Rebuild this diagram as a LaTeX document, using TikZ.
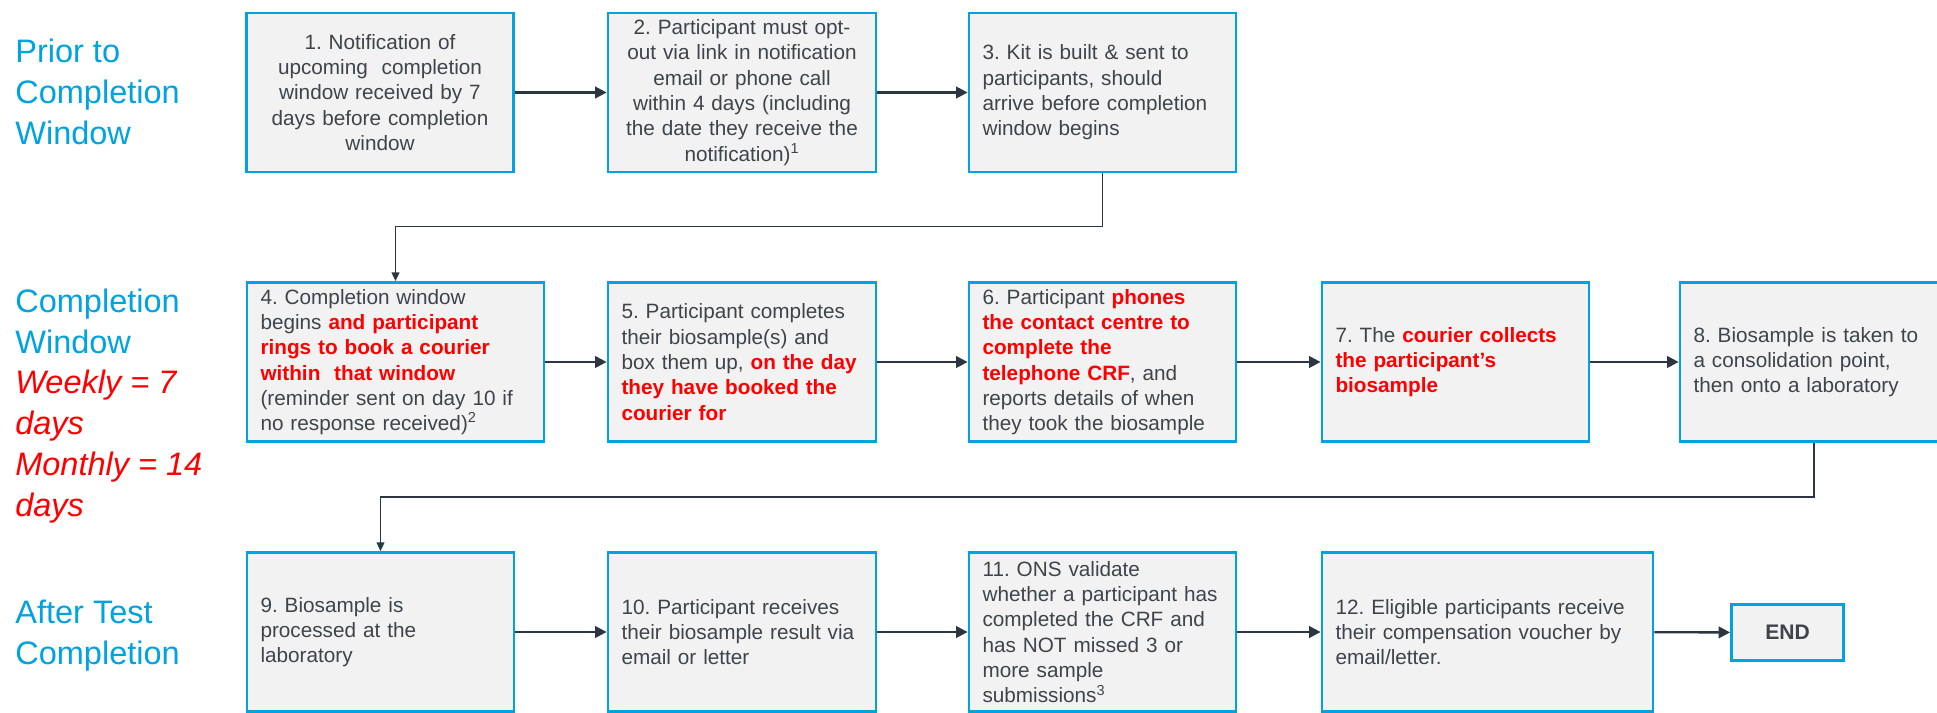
\documentclass[tikz,border=0pt]{standalone}
\usepackage{fontspec}
\setmainfont{Liberation Sans}
\usetikzlibrary{arrows.meta}
\definecolor{stageblue}{RGB}{0,163,224}
\definecolor{stagefill}{RGB}{242,242,242}
\definecolor{stagetext}{RGB}{62,68,74}
\definecolor{flowgrey}{RGB}{44,54,64}
\definecolor{alertred}{RGB}{255,0,0}
\newcommand{\redbf}[1]{\textcolor{alertred}{\bfseries #1}}

\begin{document}
\begin{tikzpicture}[x=0.02cm,y=-0.02cm,
  stage/.style={shape=rectangle,draw=stageblue,line width=1.6pt,fill=stagefill,text=stagetext,
    font=\frenchspacing\fontsize{11.8}{14.4}\selectfont,inner xsep=0.27cm,minimum height=3.18cm,text width=#1,align=left},
  stagec/.style={stage=#1,align=center},
  finish/.style={shape=rectangle,draw=stageblue,line width=1.6pt,fill=stagefill,text=stagetext,
    font=\bfseries\fontsize{12}{14.4}\selectfont,minimum width=2.24cm,minimum height=1.12cm},
  phase/.style={text=stageblue,font=\fontsize{18.5}{23.3}\selectfont,anchor=west,align=left,inner sep=0pt},
  flow/.style={draw=flowgrey,line width=1.3pt,-{Triangle[length=6.5pt,width=6.5pt]}},
  link/.style={draw=flowgrey,line width=0.8pt,-{Triangle[length=5pt,width=4.5pt]}}]
\useasboundingbox (0,0) rectangle (1937,713);

\node[phase] (prior) at (15,92) {Prior to\\Completion\\Window};
\node[phase] (window) at (15,406) {Completion\\Window\\{\color{alertred}\itshape Weekly = 7}\\{\color{alertred}\itshape days}\\{\color{alertred}\itshape Monthly = 14}\\{\color{alertred}\itshape days}};
\node[phase] (after) at (15,636) {After Test\\Completion};

\node[stagec=4.8cm] (s1) at (380,92.5) {1. Notification of\\upcoming\ \ completion\\window received by 7\\days before completion\\window};
\node[stagec=4.82cm] (s2) at (742,92.5) {2. Participant must opt-\\out via link in notification\\email or phone call\\within 4 days (including\\the date they receive the\\notification)\textsuperscript{1}};
\node[stage=4.8cm] (s3) at (1102.5,92.5) {3. Kit is built \& sent to\\participants, should\\arrive before completion\\window begins};

\node[stage=5.4cm] (s4) at (395.5,362) {4. Completion window\\begins \redbf{and participant}\\\redbf{rings to book a courier}\\\redbf{within\ \ that window}\\(reminder sent on day 10 if\\no response received)\textsuperscript{2}};
\node[stage=4.82cm] (s5) at (742,362) {5. Participant completes\\their biosample(s) and\\box them up, \redbf{on the day}\\\redbf{they have booked the}\\\redbf{courier for}};
\node[stage=4.8cm] (s6) at (1102.5,362) {6. Participant \redbf{phones}\\\redbf{the contact centre to}\\\redbf{complete the}\\\redbf{telephone CRF}, and\\reports details of when\\they took the biosample};
\node[stage=4.8cm] (s7) at (1455.5,362) {7. The \redbf{courier collects}\\\redbf{the participant’s}\\\redbf{biosample}};
\node[stage=4.82cm] (s8) at (1814,362) {8. Biosample is taken to\\a consolidation point,\\then onto a laboratory};

\node[stage=4.8cm] (s9) at (380.5,632) {9. Biosample is\\processed at the\\laboratory};
\node[stage=4.82cm] (s10) at (742,632) {10. Participant receives\\their biosample result via\\email or letter};
\node[stage=4.8cm] (s11) at (1102.5,632) {11. ONS validate\\whether a participant has\\completed the CRF and\\has NOT\ missed 3 or\\more sample\\submissions\textsuperscript{3}};
\node[stage=6.08cm] (s12) at (1487.5,632) {12. Eligible participants receive\\their compensation voucher by\\email/letter.};
\node[finish] (fin) at (1787.5,632.5) {END};

\path[flow] (s1) -- (s2);
\path[flow] (s2) -- (s3);
\path[link] (s3.south) -- ++(0,53) -| (s4.north);
\path[flow] (s4) -- (s5);
\path[flow] (s5) -- (s6);
\path[flow] (s6) -- (s7);
\path[flow] (s7) -- (s8);
\path[link] (s8.south) -- ++(0,54) -| (s9.north);
\path[flow] (s9) -- (s10);
\path[flow] (s10) -- (s11);
\path[flow] (s11) -- (s12);
\path[flow] (s12) -- (fin);
\end{tikzpicture}
\end{document}
